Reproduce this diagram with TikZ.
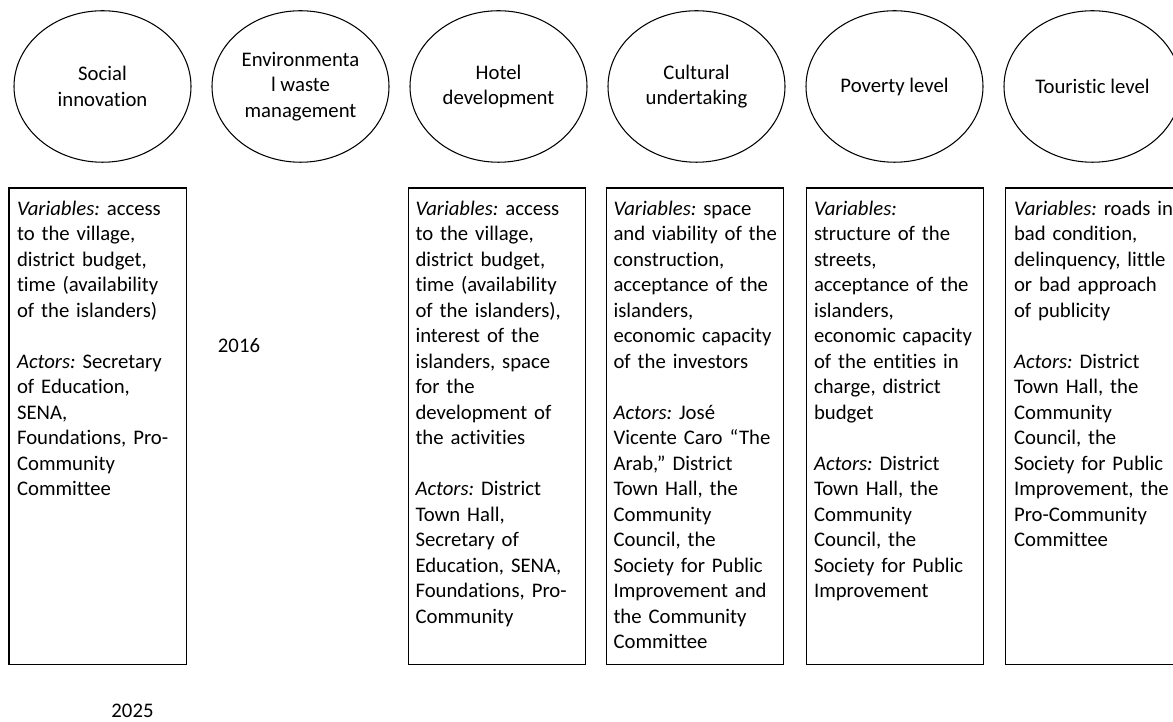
\documentclass[tikz,border=0pt]{standalone}
\usepackage{fontspec}
\setmainfont{Carlito}[Ligatures=NoCommon]
\usetikzlibrary{shapes.geometric}

\begin{document}
\begin{tikzpicture}[line width=0.6pt,
  every node/.style={font=\fontsize{11.8}{14.5}\selectfont\frenchspacing},
  topic/.style={ellipse, draw, align=center, inner sep=0pt, minimum width=3.54cm, minimum height=3.03cm},
  panel/.style={draw, anchor=north west, inner sep=0pt, minimum width=3.54cm, minimum height=9.53cm},
  txt/.style={anchor=base west, inner sep=0pt, text width=3.45cm, align=left}]
\useasboundingbox (0,0) rectangle (23.46,14.44);
\clip (0,0) rectangle (23.46,14.44);

% topics
\node[topic] (social) at (2.05,12.71) {Social\\innovation};
\node[topic] (waste) at (6.01,12.71) {Environmenta\\l waste\\management};
\node[topic] (hotel) at (9.97,12.71) {Hotel\\development};
\node[topic] (culture) at (13.93,12.71) {Cultural\\undertaking};
\node[topic] (poverty) at (17.89,12.71) {Poverty level};
\node[topic] (tourism) at (21.85,12.71) {Touristic level};

% panels
\node[panel] (psocial) at (0.17,10.69) {};
\node[panel] (photel) at (8.15,10.69) {};
\node[panel] (pculture) at (12.11,10.69) {};
\node[panel] (ppoverty) at (16.11,10.69) {};
\node[panel] (ptourism) at (20.09,10.69) {};

\node[txt] (tsocial) at (0.33,10.13) {\textit{Variables:} access\\to the village,\\district budget,\\time (availability\\of the islanders)\\[14.5pt]
\textit{Actors:} Secretary\\of Education,\\SENA,\\Foundations, Pro-\\Community\\Committee};

\node[txt] (thotel) at (8.30,10.13) {\textit{Variables:} access\\to the village,\\district budget,\\time (availability\\of the islanders),\\interest of the\\islanders, space\\for the\\development of\\the activities\\[14.5pt]
\textit{Actors:} District\\Town Hall,\\Secretary of\\Education, SENA,\\Foundations, Pro-\\Community};

\node[txt] (tculture) at (12.26,10.13) {\textit{Variables:} space\\and viability of the\\construction,\\acceptance of the\\islanders,\\economic capacity\\of the investors\\[14.5pt]
\textit{Actors:} José\\Vicente Caro “The\\Arab,” District\\Town Hall, the\\Community\\Council, the\\Society for Public\\Improvement and\\the Community\\Committee};

\node[txt] (tpoverty) at (16.27,10.13) {\textit{Variables:}\\structure of the\\streets,\\acceptance of the\\islanders,\\economic capacity\\of the entities in\\charge, district\\budget\\[14.5pt]
\textit{Actors:} District\\Town Hall, the\\Community\\Council, the\\Society for Public\\Improvement};

\node[txt] (ttourism) at (20.27,10.13) {\textit{Variables:} roads in\\bad condition,\\delinquency, little\\or bad approach\\of publicity\\[14.5pt]
\textit{Actors:} District\\Town Hall, the\\Community\\Council, the\\Society for Public\\Improvement, the\\Pro-Community\\Committee};

% years
\node[anchor=base] (y2016) at (4.78,7.39) {2016};
\node[anchor=base] (y2025) at (2.65,0.08) {2025};

\end{tikzpicture}
\end{document}
